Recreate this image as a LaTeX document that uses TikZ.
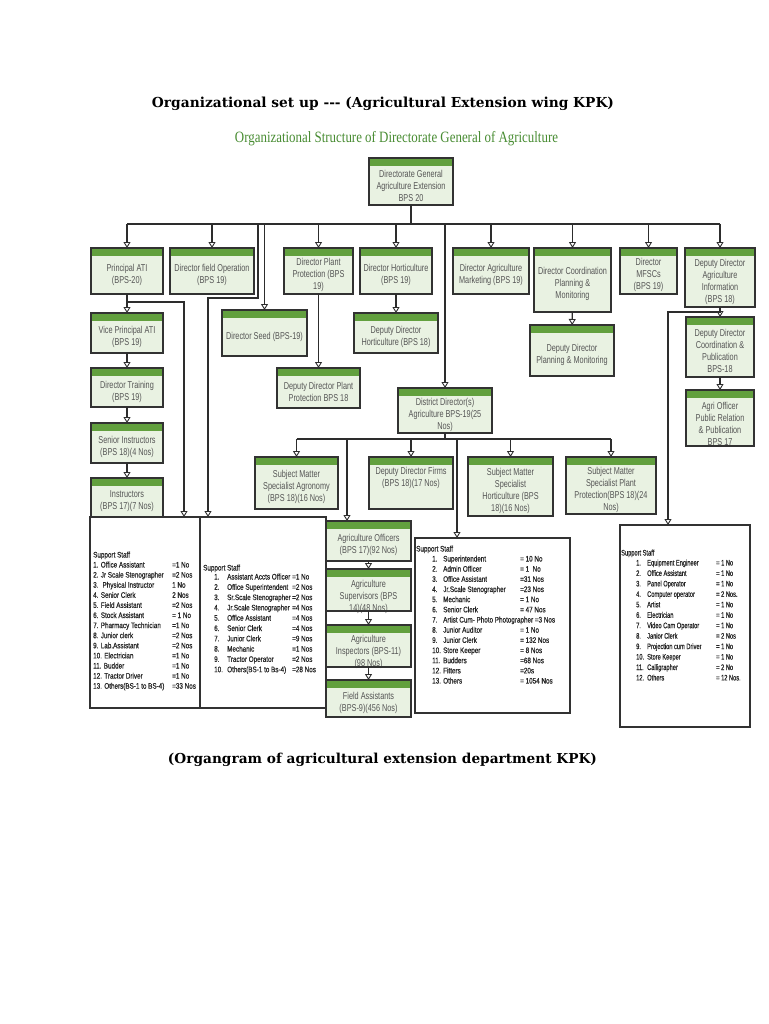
\documentclass[tikz,border=0pt]{standalone}
\usepackage{graphicx}
\usepackage{fontspec}
\setmainfont{Liberation Sans}
\newfontfamily\boxfont[FakeStretch=0.73]{Liberation Sans}
\newfontfamily\stafffont[FakeStretch=0.79,FakeBold=0.6]{Liberation Sans}
\newfontfamily\staffnarrow[FakeStretch=0.71,FakeBold=0.6]{Liberation Sans}
\newfontfamily\titlefont{DejaVu Serif}
\newfontfamily\subfont[FakeStretch=0.82]{Liberation Serif}
\usetikzlibrary{arrows.meta}
\definecolor{hdr}{RGB}{98,160,62}
\definecolor{bodyc}{RGB}{233,242,226}
\definecolor{bordc}{RGB}{50,50,50}
\definecolor{txtc}{RGB}{85,85,85}
\definecolor{subc}{RGB}{72,140,50}
\definecolor{linec}{RGB}{45,45,45}
\tikzset{
  obox/.style={fill=bodyc, draw=none, inner sep=0pt, outer sep=0pt},
  boxtext/.style={font=\boxfont\fontsize{10}{12}\selectfont, text=txtc, align=center, inner sep=0pt},
  boxline/.style={draw=bordc, line width=1.3pt},
  ln/.style={draw=linec, line width=1.4pt},
  conn/.style={ln, -{Triangle[width=7pt,length=6pt,fill=white,line width=0.9pt]}},
  staffbox/.style={draw=bordc, line width=1.2pt, fill=white, inner sep=0pt, outer sep=0pt},
  st/.style={font=\stafffont\fontsize{8}{9}\selectfont, text=black!85, anchor=base west, inner sep=0pt},
  stn/.style={font=\staffnarrow\fontsize{8}{9}\selectfont, text=black!85, anchor=base west, inner sep=0pt},
}
% #1 extra downward text shift, #2 name, #3 x1, #4 y1, #5 x2, #6 y2, #7 text
\newcommand\orgbox[7][0]{%
  \node[obox, minimum width={#5-#3}, minimum height={#6-#4}] (#2) at ({(#3+#5)/2},{(#4+#6)/2}) {};
  \fill[hdr] (#2.north west) rectangle ([yshift=-8pt]#2.north east);
  \node[boxtext] (#2-t) at ([yshift={-4pt-(#1)*1pt}]#2.center) {#7};
  \draw[boxline] (#2.north west) rectangle (#2.south east);
}
\begin{document}
\begin{tikzpicture}[x=1pt,y=-1pt]
\useasboundingbox[fill=white] (0,0) rectangle (768,1024);

% titles
\node[inner sep=0pt] (t1) at (383,104) {\resizebox{462pt}{!}{\titlefont\bfseries Organizational set up -{}-{}- (Agricultural Extension wing KPK)}};
\node[inner sep=0pt] (t2) at (396.5,139) {\color{subc}\resizebox{323pt}{!}{\subfont Organizational Structure of Directorate General of Agriculture}};
\node[inner sep=0pt] (t3) at (382.5,760) {\resizebox{429pt}{!}{\titlefont\bfseries (Organgram of agricultural extension department KPK)}};

% support staff boxes
\node[staffbox, minimum width=110, minimum height=191] (ss1) at (145,612.5) {};
\node[staffbox, minimum width=126, minimum height=191] (ss2) at (263,612.5) {};
\node[staffbox, minimum width=155, minimum height=175] (ss3) at (492.5,625.5) {};
\node[staffbox, minimum width=130, minimum height=202] (ss4) at (685,626) {};

% org boxes
\orgbox{dg}{369}{158}{453}{205}{Directorate General\\Agriculture Extension\\BPS 20}
\orgbox{pati}{91}{248}{163}{294}{Principal ATI\\(BPS-20)}
\orgbox{dfo}{170}{248}{254}{294}{Director field Operation\\(BPS 19)}
\orgbox{dpp}{284}{248}{353}{294}{Director Plant\\Protection (BPS\\19)}
\orgbox{dh}{360}{248}{432}{294}{Director Horticulture\\(BPS 19)}
\orgbox{dam}{453}{248}{529}{294}{Director Agriculture\\Marketing (BPS 19)}
\orgbox{dcpm}{534}{248}{611}{312}{Director Coordination\\Planning \&\\Monitoring}
\orgbox{dmf}{620}{248}{677}{294}{Director\\MFSCs\\(BPS 19)}
\orgbox{ddai}{685}{248}{755}{307}{Deputy Director\\Agriculture\\Information\\(BPS 18)}
\orgbox{vp}{91}{313}{163}{353}{Vice Principal ATI\\(BPS 19)}
\orgbox{dt}{91}{368}{163}{407}{Director Training\\(BPS 19)}
\orgbox{si}{91}{423}{163}{463}{Senior Instructors\\(BPS 18)(4 Nos)}
\orgbox{ins}{91}{478}{163}{517}{Instructors\\(BPS 17)(7 Nos)}
\orgbox{ds}{222}{310}{307}{356}{Director Seed (BPS-19)}
\orgbox{ddh}{354}{313}{438}{353}{Deputy Director\\Horticulture (BPS 18)}
\orgbox{ddpp}{277}{368}{360}{408}{Deputy Director Plant\\Protection BPS 18}
\orgbox{ddpm}{530}{325}{614}{376}{Deputy Director\\Planning \& Monitoring}
\orgbox{ddcp}{686}{317}{754}{377}{Deputy Director\\Coordination \&\\Publication\\BPS-18}
\orgbox[2]{aopr}{686}{390}{754}{446}{Agri Officer\\Public Relation\\\& Publication\\BPS 17}
\orgbox{ddist}{398}{388}{492}{433}{District Director(s)\\Agriculture BPS-19(25\\Nos)}
\orgbox{smsa}{255}{457}{338}{509}{Subject Matter\\Specialist Agronomy\\(BPS 18)(16 Nos)}
\orgbox[-9]{ddf}{369}{457}{453}{509}{Deputy Director Firms\\(BPS 18)(17 Nos)}
\orgbox{smsh}{468}{457}{553}{516}{Subject Matter\\Specialist\\Horticulture (BPS\\18)(16 Nos)}
\orgbox{smspp}{566}{457}{656}{514}{Subject Matter\\Specialist Plant\\Protection(BPS 18)(24\\Nos)}
\orgbox{ao}{326}{521}{411}{561}{Agriculture Officers\\(BPS 17)(92 Nos)}
\orgbox[3]{asup}{326}{569}{411}{611}{Agriculture\\Supervisors (BPS\\14)(48 Nos)}
\orgbox[2]{ains}{326}{625}{411}{667}{Agriculture\\Inspectors (BPS-11)\\(98 Nos)}
\orgbox{fa}{326}{680}{411}{717}{Field Assistants\\(BPS-9)(456 Nos)}

% main bus
\coordinate (busy) at (0,224);
\draw[ln] (dg.south) -- (dg.south |- busy);
\draw[ln] (pati.north |- busy) -- (ddai.north |- busy);
\foreach \n in {pati,dfo,ds,dpp,dh,ddist,dam,dcpm,dmf,ddai}
  \draw[conn] (\n.north |- busy) -- (\n.north);
\coordinate (k1) at (258,298);
\draw[conn] (k1 |- busy) -- (k1) -| ([xshift=-55pt]ss2.north);
\coordinate (k2) at (127,302);
\draw[conn] (pati.south) -- (k2) -| ([xshift=39pt]ss1.north);
\draw[conn] (pati) -- (vp);
\draw[conn] (vp) -- (dt);
\draw[conn] (dt) -- (si);
\draw[conn] (si) -- (ins);
\draw[conn] (dpp) -- (ddpp);
\draw[conn] (dh) -- (ddh);
\draw[conn] (dcpm) -- (ddpm);
\draw[conn] (ddai) -- (ddcp);
\draw[conn] (ddcp) -- (aopr);
\coordinate (k3) at (720,312);
\draw[conn] (ddai.south) -- (k3) -| ([xshift=-17pt]ss4.north);

% district bus
\coordinate (dbus) at (0,439);
\draw[ln] (ddist.south) -- (ddist.south |- dbus);
\draw[ln] (smsa.north |- dbus) -- (smspp.north |- dbus);
\foreach \n in {smsa,ddf,smsh,smspp}
  \draw[conn] (\n.north |- dbus) -- (\n.north);
\draw[conn] ([xshift=-21.5pt]ao.north |- dbus) -- ([xshift=-21.5pt]ao.north);
\draw[conn] ([xshift=-35.5pt]ss3.north |- dbus) -- ([xshift=-35.5pt]ss3.north);
\draw[conn] (ao) -- (asup);
\draw[conn] (asup) -- (ains);
\draw[conn] (ains) -- (fa);

% support staff 1
\node[st] (s1h) at (93,557.5) {Support Staff};
\foreach \l/\v [count=\i] in {1. Office Assistant/=1 No, 2. Jr Scale Stenographer/=2 Nos, 3.~ Physical Instructor/1 No, 4. Senior Clerk/2 Nos, 5. Field Assistant/=2 Nos, 6. Stock Assistant/= 1 No, 7. Pharmacy Technician/=1 No, 8. Junior clerk/=2 Nos, 9. Lab.Assistant/=2 Nos, 10. Electrician/=1 No, 11. Budder/=1 No, 12. Tractor Driver/=1 No, 13. Others(BS-1 to BS-4)/=33 Nos}{
  \node[st] (s1a\i) at (93,{567.5+10.1*(\i-1)}) {\l};
  \node[st] (s1b\i) at (172,{567.5+10.1*(\i-1)}) {\v};
}
% support staff 2
\node[st] (s2h) at (203,570.5) {Support Staff};
\foreach \l/\v [count=\i] in {Assistant Accts Officer/=1 No, Office Superintendent/=2 Nos, Sr.Scale Stenographer/=2 Nos, Jr.Scale Stenographer/=4 Nos, Office Assistant/=4 Nos, Senior Clerk/=4 Nos, Junior Clerk/=9 Nos, Mechanic/=1 Nos, Tractor Operator/=2 Nos, Others(BS-1 to Bs-4)/=28 Nos}{
  \node[st] (s2n\i) at (214,{579.5+10.3*(\i-1)}) {\i.};
  \node[st] (s2a\i) at (227,{579.5+10.3*(\i-1)}) {\l};
  \node[st] (s2b\i) at (292,{579.5+10.3*(\i-1)}) {\v};
}
% support staff 3
\node[st] (s3h) at (416,551.5) {Support Staff};
\foreach \l/\v [count=\i] in {Superintendent/= 10 No, Admin Officer/= 1~ No, Office Assistant/=31 Nos, Jr.Scale Stenographer/=23 Nos, Mechanic/= 1 No, Senior Clerk/= 47 Nos, Artist Cum- Photo Photographer =3 Nos/{}, Junior Auditor/= 1 No, Junior Clerk/= 132 Nos, Store Keeper/= 8 Nos, Budders/=68 Nos, Fitters/=20s, Others/= 1054 Nos}{
  \node[st] (s3n\i) at (432,{561.5+10.17*(\i-1)}) {\i.};
  \node[st] (s3a\i) at (443,{561.5+10.17*(\i-1)}) {\l};
  \node[st] (s3b\i) at (520,{561.5+10.17*(\i-1)}) {\v};
}
% support staff 4
\node[stn] (s4h) at (621,555.5) {Support Staff};
\foreach \l/\v [count=\i] in {Equipment Engineer/= 1 No, Office Assistant/= 1 No, Panel Operator/= 1 No, Computer operator/= 2 Nos., Artist/= 1 No, Electrician/= 1 No, Video Cam Operator/= 1 No, Janior Clerk/= 2 Nos, Projection cum Driver/= 1 No, Store Keeper/= 1 No, Calligrapher/= 2 No, Others/= 12 Nos.}{
  \node[stn] (s4n\i) at (636,{565.5+10.45*(\i-1)}) {\i.};
  \node[stn] (s4a\i) at (647,{565.5+10.45*(\i-1)}) {\l};
  \node[stn] (s4b\i) at (716,{565.5+10.45*(\i-1)}) {\v};
}
\end{tikzpicture}
\end{document}
